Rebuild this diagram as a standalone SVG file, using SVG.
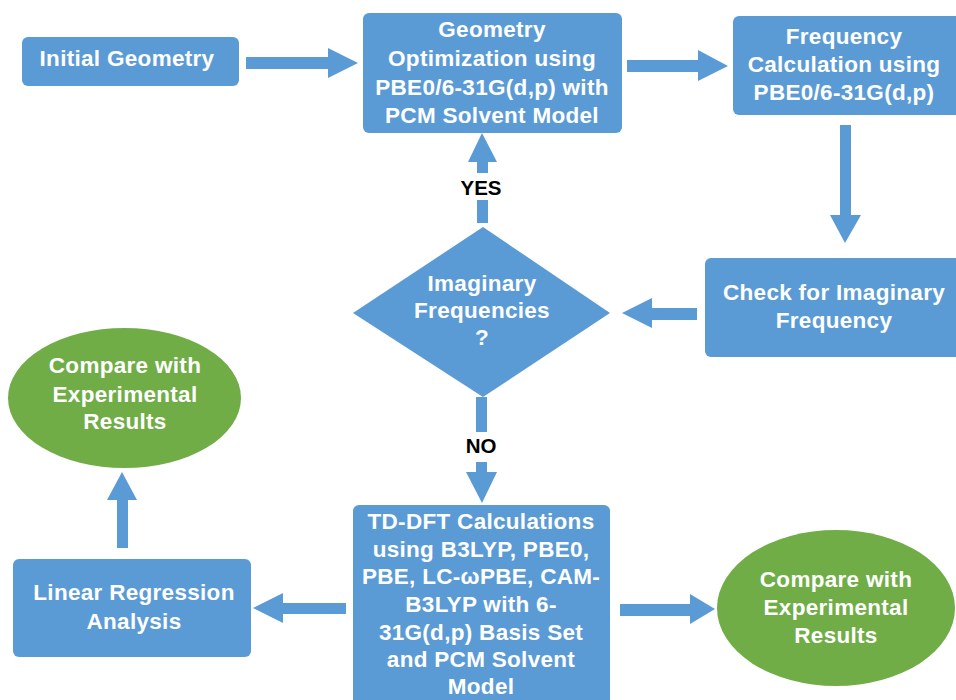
<svg xmlns="http://www.w3.org/2000/svg" width="956" height="700" viewBox="0 0 956 700">
<style>
.box{fill:#5b9bd5;}
.ell{fill:#70ad47;}
.t{font-family:"Liberation Sans",Arial,sans-serif;font-weight:bold;font-size:22.5px;fill:#ffffff;text-anchor:middle;letter-spacing:0.3px;}
.lbl{font-family:"Liberation Sans",Arial,sans-serif;font-weight:bold;font-size:20.5px;fill:#000000;text-anchor:middle;}
.arr{fill:#5b9bd5;}
</style>
<rect width="956" height="700" fill="#ffffff"/>
<g id="initial">
<rect class="box" x="22" y="37" width="217" height="49" rx="6"/>
<text class="t" x="127" y="66">Initial Geometry</text>
</g>
<g id="geomopt">
<rect class="box" x="363" y="13" width="259" height="120" rx="6"/>
<text class="t" x="492" y="37">Geometry</text>
<text class="t" x="492" y="66">Optimization using</text>
<text class="t" x="492" y="95">PBE0/6-31G(d,p) with</text>
<text class="t" x="492" y="123">PCM Solvent Model</text>
</g>
<g id="freq">
<rect class="box" x="733" y="16" width="230" height="99" rx="6"/>
<text class="t" x="844" y="44">Frequency</text>
<text class="t" x="844" y="72">Calculation using</text>
<text class="t" x="844" y="100">PBE0/6-31G(d,p)</text>
</g>
<g id="check">
<rect class="box" x="705" y="258" width="258" height="99" rx="6"/>
<text class="t" x="834" y="300">Check for Imaginary</text>
<text class="t" x="834" y="328">Frequency</text>
</g>
<g id="decision">
<polygon class="box" points="483,227 610,313 483,397 353,313"/>
<text class="t" x="482" y="291">Imaginary</text>
<text class="t" x="482" y="318">Frequencies</text>
<text class="t" x="482" y="345">?</text>
</g>
<g id="tddft">
<rect class="box" x="353" y="505" width="257" height="210" rx="6"/>
<text class="t" x="481" y="529">TD-DFT Calculations</text>
<text class="t" x="481" y="557">using B3LYP, PBE0,</text>
<text class="t" x="481" y="584">PBE, LC-ωPBE, CAM-</text>
<text class="t" x="481" y="612">B3LYP with 6-</text>
<text class="t" x="481" y="640">31G(d,p) Basis Set</text>
<text class="t" x="481" y="667">and PCM Solvent</text>
<text class="t" x="481" y="694">Model</text>
</g>
<g id="compare-right">
<ellipse class="ell" cx="836" cy="608" rx="119" ry="78"/>
<text class="t" x="836" y="587">Compare with</text>
<text class="t" x="836" y="615">Experimental</text>
<text class="t" x="836" y="643">Results</text>
</g>
<g id="linreg">
<rect class="box" x="13" y="559" width="238" height="98" rx="6"/>
<text class="t" x="134" y="600">Linear Regression</text>
<text class="t" x="134" y="629">Analysis</text>
</g>
<g id="compare-left">
<ellipse class="ell" cx="124.5" cy="398" rx="116.5" ry="70"/>
<text class="t" x="125" y="373">Compare with</text>
<text class="t" x="125" y="402">Experimental</text>
<text class="t" x="125" y="429">Results</text>
</g>
<g id="connectors">
<polygon class="arr" points="246,57 328,57 328,48 358,63 328,78 328,69 246,69"/>
<polygon class="arr" points="627,60 698,60 698,50 728,66 698,81 698,72 627,72"/>
<polygon class="arr" points="840,125 851,125 851,215 861,215 845,243 830,215 840,215"/>
<polygon class="arr" points="697,308 652,308 652,298 622,313 652,328 652,320 697,320"/>
<polygon class="arr" points="482,133 497,162 488,162 488,173 477,173 477,162 468,162"/>
<rect class="arr" x="477" y="200" width="11" height="23"/>
<rect class="arr" x="476" y="397" width="11" height="35"/>
<polygon class="arr" points="476,462 487,462 487,472 497,472 482,503 466,472 476,472"/>
<polygon class="arr" points="620,604 690,604 690,594 715,609 690,624 690,616 620,616"/>
<polygon class="arr" points="346,603 283,603 283,593 253,608 283,623 283,614 346,614"/>
<polygon class="arr" points="117,548 117,500 107,500 122,472 137,500 128,500 128,548"/>
<text class="lbl" x="481" y="195">YES</text>
<text class="lbl" x="481" y="453">NO</text>
</g>
</svg>
